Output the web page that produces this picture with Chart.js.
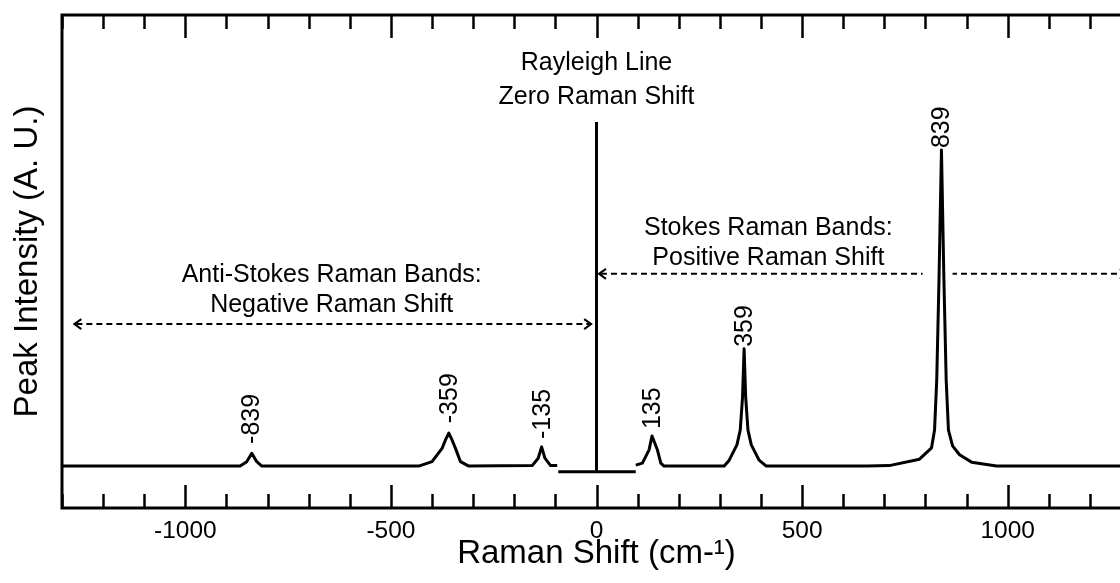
<!DOCTYPE html>
<html>
<head>
<meta charset="utf-8">
<script src="https://cdn.jsdelivr.net/npm/chart.js@4.4.1/dist/chart.umd.min.js"></script>
<style>
  html, body { margin: 0; padding: 0; background: #fff; overflow: hidden; }
  #wrap { width: 1120px; height: 583px; overflow: hidden; position: relative; }
  canvas { display: block; }
</style>
</head>
<body>
<div id="wrap"><canvas id="c" width="1145" height="583"></canvas></div>
<script>
// ---- Data ----
// Anti-Stokes side (negative Raman shift)
const antiStokesX = [-1300, -866.7, -850.7, -838.5, -826.3, -814.1,
                     -432.4, -400, -375.6, -367.4, -359.3, -351.3, -343, -330.8, -310.6,
                     -156.4, -141.8, -133.5, -125.5, -111.6, -95.5];
const antiStokesY = [8.5, 8.5, 9.4, 11.1, 9.4, 8.5,
                     8.5, 9.4, 12.1, 13.8, 15.2, 13.8, 12.1, 9.4, 8.5,
                     8.6, 10.1, 12.4, 10.1, 8.6, 8.6];
// Zero-shift baseline segment around the Rayleigh line
const zeroX = [-93, 95.5];
const zeroY = [7.36, 7.36];
// Rayleigh line
const rayleighX = [0, 0];
const rayleighY = [7.36, 78.3];
// Stokes side (positive Raman shift)
const stokesX = [95.5, 111.6, 127.9, 135, 148.1, 156.4, 164.4,
                 310.6, 322.8, 341.5, 349.6, 355.2, 359, 362.8, 368.4, 376.5, 395.4, 413,
                 659, 712, 785.6, 814.9, 822.2, 827.5, 833, 839, 845, 850.5, 856, 866, 883, 912.3, 973, 1300];
const stokesY = [8.7, 9.1, 11.8, 14.6, 11.8, 9.1, 8.5,
                 8.5, 9.7, 12.8, 15.8, 22.5, 32.3, 22.5, 15.8, 12.8, 9.7, 8.5,
                 8.5, 8.6, 9.9, 12.2, 15.8, 26.0, 46.2, 72.6, 46.2, 26.0, 15.8, 12.6, 10.8, 9.3, 8.5, 8.5];
// Peak labels
const peakLabels = ['-839', '-359', '-135', '135', '359', '839'];
const peakLabelX = [-839, -359, -133.5, 135, 359, 839];
const peakLabelY = [13.0, 17.2, 14.0, 16.0, 32.7, 73.0];
// Axis
const xTickLabels = [-1000, -500, 0, 500, 1000];
const xMin = -1300, xMax = 1300, yMin = 0, yMax = 100;

const FONT = "'Liberation Sans', Arial, Helvetica, sans-serif";
const pts = (xs, ys) => xs.map((v, i) => ({x: v, y: ys[i]}));

const lineDs = (label, xs, ys) => ({
  label, data: pts(xs, ys), showLine: true, pointRadius: 0,
  borderColor: '#000', borderWidth: 3, tension: 0, fill: false,
  borderJoinStyle: 'round', borderCapStyle: 'butt'
});

const annotations = [
  {text: 'Rayleigh Line', x: 0, y: 90.3},
  {text: 'Zero Raman Shift', x: 0, y: 83.4},
  {text: 'Stokes Raman Bands:', x: 418, y: 56.8},
  {text: 'Positive Raman Shift', x: 418, y: 50.7},
  {text: 'Anti-Stokes Raman Bands:', x: -644, y: 47.3},
  {text: 'Negative Raman Shift', x: -644, y: 41.2}
];
const arrows = [
  {x1: -1270, x2: -13, y: 37.3, gaps: []},
  {x1: 6, x2: 1290, y: 47.5, gaps: [[793, 866]]}
];

const overlay = {
  id: 'overlay',
  afterDraw(chart) {
    const {ctx, chartArea: a, scales: {x, y}} = chart;
    ctx.save();
    // frame
    ctx.strokeStyle = '#000';
    ctx.lineWidth = 3;
    ctx.strokeRect(a.left, a.top, a.right - a.left, a.bottom - a.top);
    // inward ticks top & bottom
    ctx.lineWidth = 2.5;
    for (let v = xMin; v <= xMax; v += 100) {
      const px = Math.round(x.getPixelForValue(v)) + 0.5;
      const len = (v % 500 === 0) ? 23 : 14;
      ctx.beginPath();
      ctx.moveTo(px, a.top); ctx.lineTo(px, a.top + len);
      ctx.moveTo(px, a.bottom); ctx.lineTo(px, a.bottom - len);
      ctx.stroke();
    }
    // dashed arrows
    ctx.lineWidth = 2;
    arrows.forEach(ar => {
      const py = y.getPixelForValue(ar.y);
      const p1 = x.getPixelForValue(ar.x1), p2 = x.getPixelForValue(ar.x2);
      ctx.save();
      ctx.beginPath();
      ctx.rect(0, 0, chart.width, chart.height);
      ar.gaps.forEach(g => {
        const g1 = x.getPixelForValue(g[0]), g2 = x.getPixelForValue(g[1]);
        ctx.rect(g2, py - 5, g1 - g2, 10);
      });
      ctx.clip('evenodd');
      ctx.setLineDash([6, 4]);
      ctx.beginPath();
      ctx.moveTo(p1 + 2, py); ctx.lineTo(p2 - 2, py);
      ctx.stroke();
      ctx.restore();
      ctx.setLineDash([]);
      ctx.beginPath();
      ctx.moveTo(p1 + 7, py - 5); ctx.lineTo(p1, py); ctx.lineTo(p1 + 7, py + 5);
      ctx.moveTo(p2 - 7, py - 5); ctx.lineTo(p2, py); ctx.lineTo(p2 - 7, py + 5);
      ctx.stroke();
    });
    // annotation texts
    ctx.fillStyle = '#000';
    ctx.font = '25px ' + FONT;
    ctx.textAlign = 'center';
    ctx.textBaseline = 'middle';
    annotations.forEach(t => {
      ctx.fillText(t.text, x.getPixelForValue(t.x), y.getPixelForValue(t.y));
    });
    // rotated peak labels
    ctx.font = '25px ' + FONT;
    peakLabels.forEach((s, i) => {
      ctx.save();
      ctx.translate(x.getPixelForValue(peakLabelX[i]), y.getPixelForValue(peakLabelY[i]));
      ctx.rotate(-Math.PI / 2);
      ctx.textAlign = 'left';
      ctx.textBaseline = 'middle';
      ctx.fillText(s, 0, 1);
      ctx.restore();
    });
    ctx.restore();
  }
};

new Chart(document.getElementById('c'), {
  type: 'scatter',
  data: {
    datasets: [
      lineDs('Anti-Stokes', antiStokesX, antiStokesY),
      lineDs('Zero shift', zeroX, zeroY),
      lineDs('Rayleigh line', rayleighX, rayleighY),
      lineDs('Stokes', stokesX, stokesY)
    ]
  },
  options: {
    responsive: false,
    animation: false,
    events: [],
    layout: {padding: {left: 0, top: 15, right: 14, bottom: 0}},
    plugins: {legend: {display: false}, tooltip: {enabled: false}},
    scales: {
      x: {
        type: 'linear', min: xMin, max: xMax,
        afterFit(s) { s.height = 75; },
        afterBuildTicks(s) { s.ticks = xTickLabels.map(v => ({value: v})); },
        grid: {display: false, drawTicks: false},
        border: {display: false},
        ticks: {
          color: '#000', padding: 9, autoSkip: false, maxRotation: 0,
          font: {family: FONT, size: 24.5},
          callback: v => String(v)
        },
        title: {
          display: true, text: 'Raman Shift (cm-¹)', color: '#000',
          font: {family: FONT, size: 33}, padding: {top: 0, bottom: 9}
        }
      },
      y: {
        type: 'linear', min: yMin, max: yMax,
        afterFit(s) { s.width = 62; },
        grid: {display: false, drawTicks: false},
        border: {display: false},
        ticks: {display: false},
        title: {
          display: true, text: 'Peak Intensity (A. U.)', color: '#000',
          font: {family: FONT, size: 33}, padding: {top: 8, bottom: 0}
        }
      }
    }
  },
  plugins: [overlay]
});
</script>
</body>
</html>
